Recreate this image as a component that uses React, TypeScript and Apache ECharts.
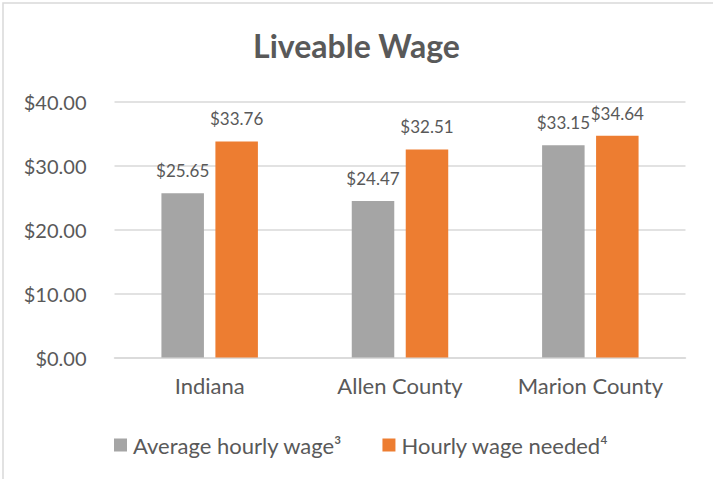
import React, { useEffect, useRef } from "react";
import * as echarts from "echarts";

const categories = ["Indiana", "Allen County", "Marion County"];
const averageWage = [25.65, 24.47, 33.15];
const wageNeeded = [33.76, 32.51, 34.64];
const seriesNames = ["Average hourly wage³", "Hourly wage needed⁴"];
const titleText = "Liveable Wage";

const FONT = "Lato, 'Noto Sans', sans-serif";
const TEXT = "#595959";

export default function App() {
  const ref = useRef<HTMLDivElement>(null);
  useEffect(() => {
    if (!ref.current) return;
    const chart = echarts.init(ref.current, undefined, { renderer: "svg" });
    const money = (v: number) => "$" + Number(v).toFixed(2);
    chart.setOption({
      animation: false,
      backgroundColor: "#ffffff",
      textStyle: { fontFamily: FONT },
      graphic: [
        {
          type: "rect",
          shape: { x: 3, y: 3, width: 800, height: 600 },
          style: { fill: "none", stroke: "#D9D9D9", lineWidth: 1.5 },
          silent: true,
        },
      ],
      title: {
        text: titleText,
        left: "center",
        top: 24,
        textStyle: { fontFamily: FONT, fontSize: 32, fontWeight: "bold", color: TEXT },
      },
      legend: {
        left: 114,
        top: 434,
        padding: 0,
        itemWidth: 13,
        itemHeight: 13,
        itemGap: 40,
        icon: "rect",
        textStyle: { fontFamily: FONT, fontSize: 22, color: TEXT, padding: [0, 0, 0, 1] },
        data: seriesNames,
      },
      grid: { left: 114.5, top: 101.5, width: 571, height: 256, containLabel: false },
      xAxis: {
        type: "category",
        data: categories,
        axisLine: { lineStyle: { color: "#D9D9D9", width: 1.5 } },
        axisTick: { show: false },
        axisLabel: { fontFamily: FONT, fontSize: 22, color: TEXT, margin: 17 },
      },
      yAxis: {
        type: "value",
        min: 0,
        max: 40,
        interval: 10,
        axisLine: { show: false },
        axisTick: { show: false },
        splitLine: { lineStyle: { color: "#D9D9D9", width: 1.5 } },
        axisLabel: { fontFamily: FONT, fontSize: 20, color: TEXT, margin: 28, formatter: money },
      },
      series: [
        {
          name: seriesNames[0],
          type: "bar",
          data: averageWage,
          barWidth: 42.5,
          barGap: "27%",
          itemStyle: { color: "#A5A5A5" },
          label: {
            show: true,
            position: "top",
            distance: 14,
            fontFamily: FONT,
            fontSize: 17,
            color: TEXT,
            formatter: (p: any) => money(p.value),
          },
        },
        {
          name: seriesNames[1],
          type: "bar",
          data: wageNeeded,
          barWidth: 42.5,
          barGap: "27%",
          itemStyle: { color: "#ED7D31" },
          label: {
            show: true,
            position: "top",
            distance: 14,
            fontFamily: FONT,
            fontSize: 17,
            color: TEXT,
            formatter: (p: any) => money(p.value),
          },
        },
      ],
    });
    return () => chart.dispose();
  }, []);
  return (
    <div
      ref={ref}
      style={{ position: "fixed", left: 0, top: 0, width: 713, height: 479 }}
    />
  );
}
